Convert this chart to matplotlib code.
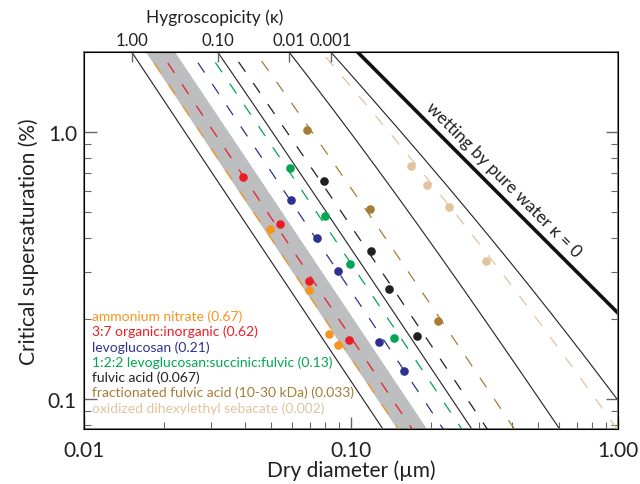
import numpy as np
import matplotlib
matplotlib.use("Agg")
import matplotlib.pyplot as plt
from matplotlib.ticker import LogLocator, NullLocator, FixedLocator, FixedFormatter, NullFormatter

plt.rcParams['font.family'] = ['Lato', 'DejaVu Sans']

# kappa reference lines (top axis)
kappa_ref = [1.0, 0.1, 0.01, 0.001]
kappa_ref_labels = ['1.00', '0.10', '0.01', '0.001']
band_kappa = [0.69, 0.32]  # gray band edges

names = ['ammonium nitrate (0.67)', '3:7 organic:inorganic (0.62)', 'levoglucosan (0.21)',
         '1:2:2 levoglucosan:succinic:fulvic (0.13)', 'fulvic acid (0.067)',
         'fractionated fulvic acid (10-30 kDa) (0.033)', 'oxidized dihexylethyl sebacate (0.002)']
# kappa of the dashed lines as drawn
line_kappas = [0.67, 0.47, 0.21, 0.13, 0.067, 0.033, 0.002]
colors = ['#F7941D', '#ED1C24', '#2E3192', '#00A651', '#231F20', '#A67C37', '#E2C3A0']

# measured points (dry diameter um, critical supersaturation %)
dd_an = [0.0497, 0.0696, 0.0827, 0.0894]
sc_an = [0.433, 0.256, 0.175, 0.159]
dd_oi = [0.0394, 0.0542, 0.0696, 0.0983]
sc_oi = [0.678, 0.452, 0.277, 0.166]
dd_lev = [0.0596, 0.0746, 0.0894, 0.1273, 0.158]
sc_lev = [0.556, 0.401, 0.302, 0.1635, 0.127]
dd_mix = [0.0591, 0.0799, 0.0992, 0.145]
sc_mix = [0.733, 0.484, 0.320, 0.169]
dd_fa = [0.0792, 0.1188, 0.1388, 0.1767]
sc_fa = [0.655, 0.358, 0.258, 0.172]
dd_ffa = [0.0684, 0.1178, 0.2118]
sc_ffa = [1.017, 0.515, 0.196]
dd_des = [0.1678, 0.1926, 0.2328, 0.3202]
sc_des = [0.746, 0.633, 0.524, 0.329]

pts_dd = [dd_an, dd_oi, dd_lev, dd_mix, dd_fa, dd_ffa, dd_des]
pts_sc = [sc_an, sc_oi, sc_lev, sc_mix, sc_fa, sc_ffa, sc_des]

A = 4 * 0.072 * 0.018 / (8.314 * 298.15 * 1000.0) * 1e6  # um


def crit_ss(dd, kappa):
    if kappa == 0:
        return (np.exp(A / dd) - 1) * 100
    D = dd[:, None] * (1 + np.logspace(-6, 3, 3000))[None, :]
    d3 = dd[:, None] ** 3
    S = (D**3 - d3) / (D**3 - d3 * (1 - kappa)) * np.exp(A / D)
    return (S.max(axis=1) - 1) * 100


dd = np.logspace(-2, 0, 300)
ylo, yhi = 0.077, 2.0

fig = plt.figure(figsize=(6.4, 4.85), dpi=100)
ax = fig.add_axes([0.131, 0.113, 0.835, 0.778])

lo = crit_ss(dd, band_kappa[0])
hi = crit_ss(dd, band_kappa[1])
ax.fill_between(dd, lo, hi, color='#BCBEC0', lw=0, zorder=1)

top_pos = []
for k in kappa_ref:
    sc = crit_ss(dd, k)
    ax.plot(dd, sc, color='#231F20', lw=0.8, zorder=2)
    top_pos.append(np.exp(np.interp(np.log(yhi), np.log(sc[::-1]), np.log(dd[::-1]))))

ax.plot(dd, crit_ss(dd, 0), color='#111111', lw=2.6, zorder=2)

for k, c in zip(line_kappas, colors):
    ax.plot(dd, crit_ss(dd, k), color=c, lw=0.9, dashes=(9.5, 11), zorder=3)

for x, y, c in zip(pts_dd, pts_sc, colors):
    ax.plot(x, y, 'o', color=c, ms=6.2, mec='none', zorder=4)

for i, (n, c) in enumerate(zip(names, colors)):
    ax.text(0.015, 0.300 - i * 0.0403, n, color=c, fontsize=10, transform=ax.transAxes,
            va='center', ha='left')

ax.text(0.371, 0.667, 'wetting by pure water \u03ba = 0', rotation=-45, fontsize=12.5,
        color='#231F20', ha='center', va='center')

ax.set_xscale('log')
ax.set_yscale('log')
ax.set_xlim(0.01, 1.0)
ax.set_ylim(ylo, yhi)
ax.xaxis.set_major_locator(FixedLocator([0.01, 0.1, 1.0]))
ax.xaxis.set_major_formatter(FixedFormatter(['0.01', '0.10', '1.00']))
ax.xaxis.set_minor_locator(LogLocator(base=10, subs=np.arange(2, 10)))
ax.xaxis.set_minor_formatter(NullFormatter())
ax.yaxis.set_major_locator(FixedLocator([0.1, 1.0]))
ax.yaxis.set_major_formatter(FixedFormatter(['0.1', '1.0']))
ax.yaxis.set_minor_locator(LogLocator(base=10, subs=np.arange(2, 10)))
ax.yaxis.set_minor_formatter(NullFormatter())
ax.tick_params(which='both', direction='in', top=False, right=True, color='#666666',
               labelsize=15, labelcolor='#231F20')
ax.tick_params(which='major', length=9, width=1)
ax.tick_params(which='minor', length=5, width=0.8)
ax.tick_params(axis='x', pad=8)
ax.tick_params(axis='y', pad=5)
for s in ax.spines.values():
    s.set_color('#777777')
    s.set_linewidth(1.3)
ax.set_xlabel('Dry diameter (\u00b5m)', fontsize=15, color='#231F20', labelpad=-1)
ax.set_ylabel('Critical supersaturation (%)', fontsize=15, color='#231F20', labelpad=6)

ax2 = ax.twiny()
ax2.set_xscale('log')
ax2.set_xlim(ax.get_xlim())
ax2.xaxis.set_major_locator(FixedLocator(top_pos))
ax2.xaxis.set_major_formatter(FixedFormatter(kappa_ref_labels))
ax2.xaxis.set_minor_locator(NullLocator())
ax2.tick_params(direction='in', length=7, width=1, color='#666666', labelsize=12,
                labelcolor='#231F20', pad=3)
fig.text(0.336, 0.963, 'Hygroscopicity (\u03ba)', fontsize=12.5, color='#231F20',
         ha='center', va='center')

fig.savefig('out.png', dpi=100)
